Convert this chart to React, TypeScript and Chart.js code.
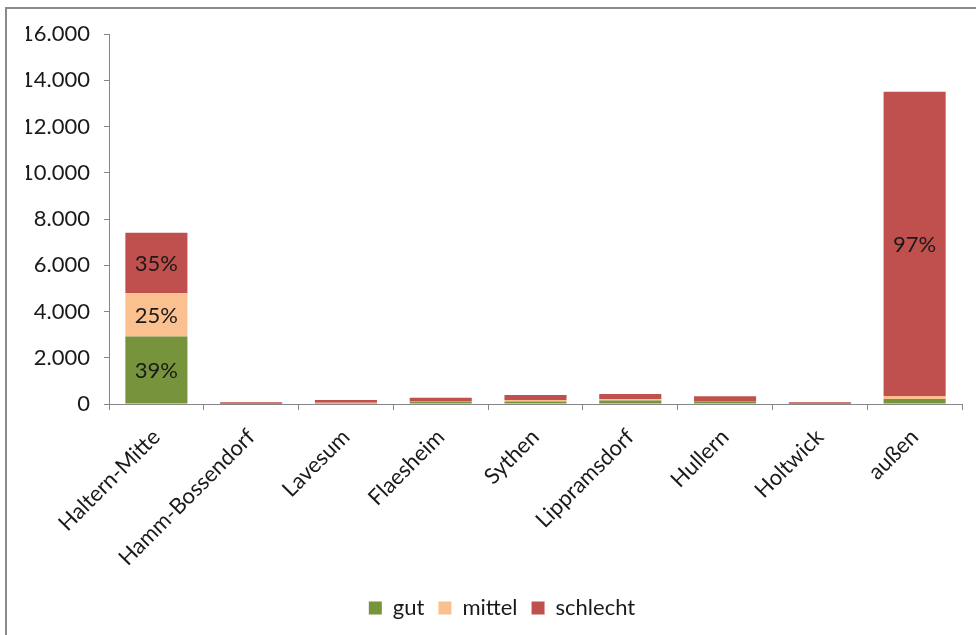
import React, { useEffect, useRef } from "react";
import { Chart, registerables } from "chart.js";

Chart.register(...registerables);

const categories = [
  "Haltern-Mitte",
  "Hamm-Bossendorf",
  "Lavesum",
  "Flaesheim",
  "Sythen",
  "Lippramsdorf",
  "Hullern",
  "Holtwick",
  "außen",
];
const gut = [2920, 10, 40, 100, 110, 150, 115, 5, 220];
const mittel = [1870, 5, 10, 10, 60, 60, 15, 5, 130];
const schlecht = [2620, 60, 120, 160, 220, 220, 200, 70, 13150];
const yTicks = [0, 2000, 4000, 6000, 8000, 10000, 12000, 14000, 16000];

const FONT = "Lato, 'Open Sans', sans-serif";
const TEXT = "#1a1a1a";
const AXIS = "#868686";

function fmt(v: number): string {
  return String(Math.round(v)).replace(/\B(?=(\d{3})+(?!\d))/g, ".");
}

const pctPlugin = {
  id: "pctLabels",
  afterDatasetsDraw(chart: any) {
    const ctx = chart.ctx;
    const sets = chart.data.datasets;
    ctx.save();
    ctx.font = `22px ${FONT}`;
    ctx.fillStyle = TEXT;
    ctx.textAlign = "center";
    ctx.textBaseline = "middle";
    sets.forEach((ds: any, i: number) => {
      const meta = chart.getDatasetMeta(i);
      meta.data.forEach((el: any, j: number) => {
        const total = sets.reduce((s: number, d: any) => s + d.data[j], 0);
        const h = el.base - el.y;
        if (h > 30) {
          const pct = Math.round((ds.data[j] / total) * 100);
          ctx.fillText(pct + "%", el.x, (el.y + el.base) / 2 + 1);
        }
      });
    });
    ctx.restore();
  },
};

const legendShift = {
  id: "legendShift",
  afterLayout(chart: any) {
    if (chart.legend) {
      chart.legend.left += 8;
      chart.legend.right += 8;
    }
  },
};

export default function App() {
  const ref = useRef<HTMLCanvasElement>(null);
  useEffect(() => {
    if (!ref.current) return;
    const chart = new Chart(ref.current, {
      type: "bar",
      data: {
        labels: categories,
        datasets: [
          { label: "gut", data: gut, backgroundColor: "#77933C" },
          { label: "mittel", data: mittel, backgroundColor: "#FAC090" },
          { label: "schlecht", data: schlecht, backgroundColor: "#C0504D" },
        ],
      },
      options: {
        animation: false,
        responsive: false,
        maintainAspectRatio: false,
        layout: { padding: { left: 26, right: 14, top: 34, bottom: 6 } },
        datasets: {
          bar: { barPercentage: 1, categoryPercentage: 0.655 },
        },
        plugins: {
          tooltip: { enabled: false },
          legend: {
            position: "bottom",
            labels: {
              font: { family: FONT, size: 22 },
              color: TEXT,
              boxWidth: 13,
              boxHeight: 13,
              padding: 14,
            },
          },
        },
        scales: {
          x: {
            stacked: true,
            afterFit: (s: any) => {
              s.height = 179;
            },
            grid: {
              offset: true,
              drawOnChartArea: false,
              drawTicks: true,
              tickLength: 6,
              color: AXIS,
            },
            border: { color: AXIS, width: 1 },
            ticks: {
              font: { family: FONT, size: 22 },
              color: TEXT,
              minRotation: 45,
              maxRotation: 45,
              autoSkip: false,
              padding: 14,
            },
          },
          y: {
            stacked: true,
            min: 0,
            max: 16000,
            afterFit: (s: any) => {
              s.width = 83;
            },
            afterBuildTicks: (s: any) => {
              s.ticks = yTicks.map((v) => ({ value: v }));
            },
            grid: {
              drawOnChartArea: false,
              drawTicks: true,
              tickLength: 5,
              color: AXIS,
            },
            border: { color: AXIS, width: 1 },
            ticks: {
              font: { family: FONT, size: 22 },
              color: TEXT,
              padding: 14,
              callback: (v: any) => fmt(Number(v)),
            },
          },
        },
      },
      plugins: [pctPlugin, legendShift],
    });
    return () => chart.destroy();
  }, []);

  return (
    <div
      style={{
        position: "fixed",
        left: 0,
        top: 0,
        width: 976,
        height: 635,
        overflow: "hidden",
        background: "#fff",
      }}
    >
      <div
        style={{
          position: "absolute",
          left: 5,
          top: 7,
          width: 1100,
          height: 800,
          borderTop: "2px solid #8a8a8a",
          borderLeft: "2px solid #8a8a8a",
        }}
      />
      <canvas
        ref={ref}
        width={976}
        height={635}
        style={{ position: "absolute", left: 0, top: 0, width: 976, height: 635 }}
      />
    </div>
  );
}
